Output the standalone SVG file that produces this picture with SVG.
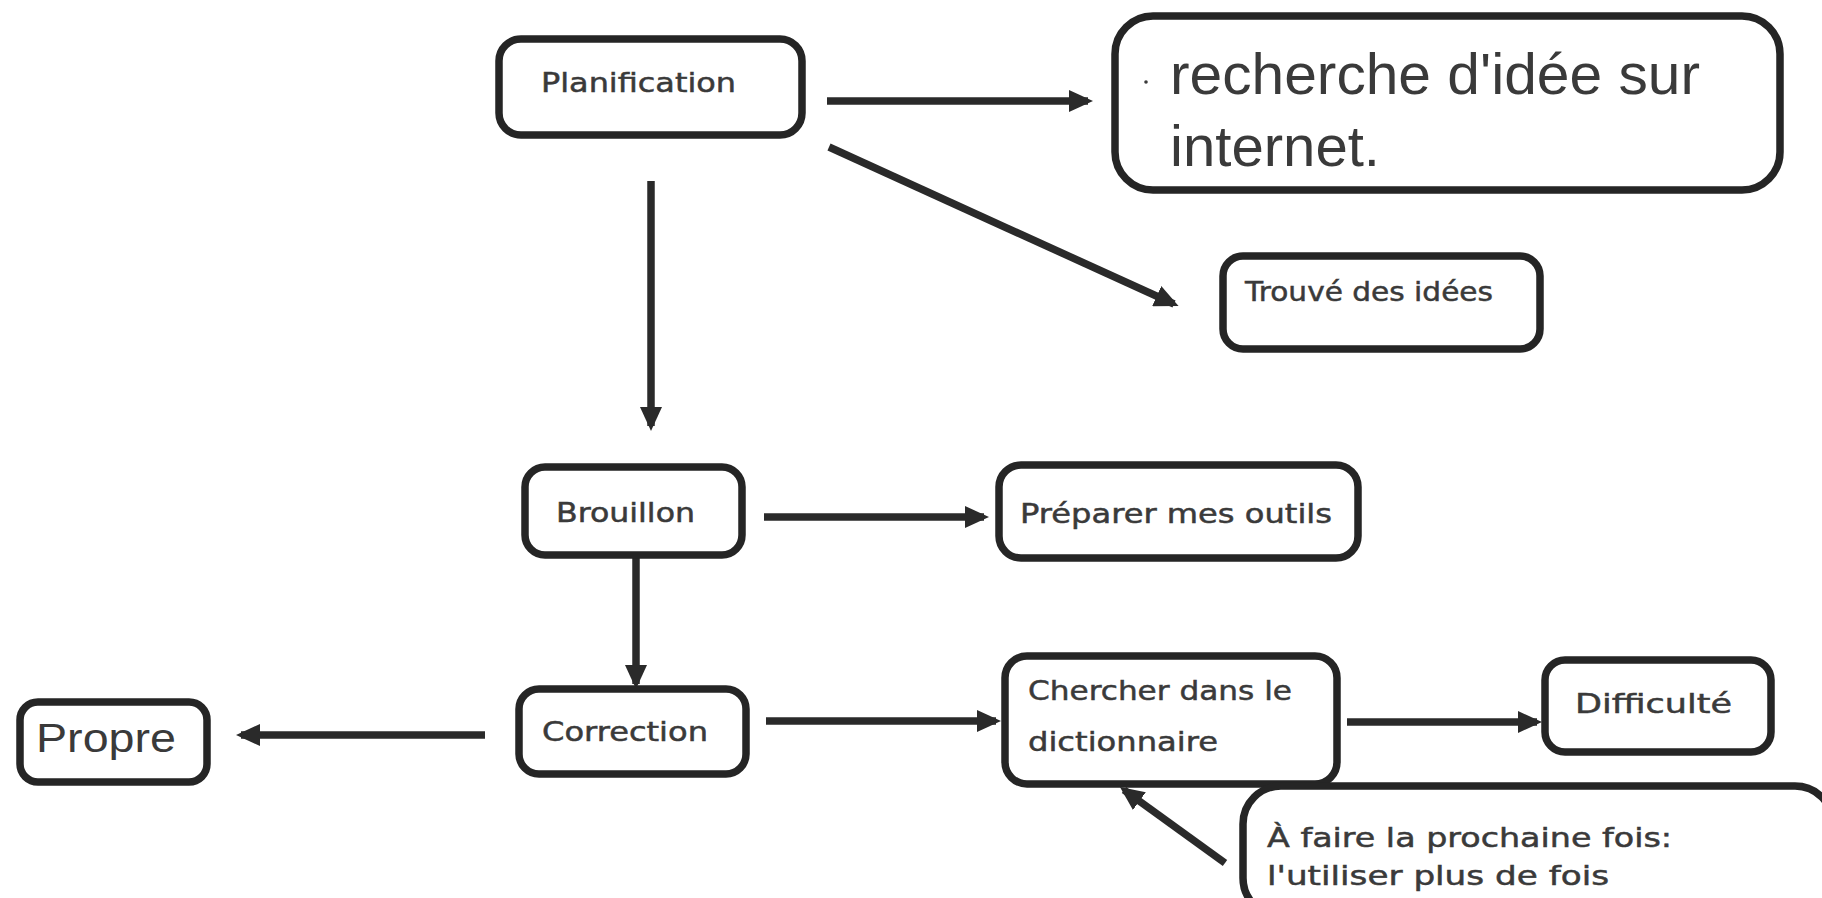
<svg xmlns="http://www.w3.org/2000/svg" width="1822" height="898" viewBox="0 0 1822 898">
<style>
.box{fill:#ffffff;stroke:#252525;stroke-width:7.5}
.c{font-family:"DejaVu Sans","Noto Sans",sans-serif;fill:#3a3a3a;stroke:#3a3a3a;stroke-width:0.5;font-size:27px}
.a{font-family:"Liberation Sans",Arial,sans-serif;fill:#3a3a3a}
.ln{stroke:#2a2a2a;stroke-width:7.5;fill:none;marker-end:url(#ah)}
</style>
<defs>
<marker id="ah" markerUnits="userSpaceOnUse" markerWidth="24" markerHeight="22" viewBox="0 0 24 22" refX="19" refY="11" orient="auto">
<path d="M0,0 L24,11 L0,22 z" fill="#2a2a2a"/>
</marker>
</defs>
<rect width="1822" height="898" fill="#ffffff"/>
<g id="connectors">
<line class="ln" x1="651" y1="181" x2="651" y2="426"/>
<line class="ln" x1="827" y1="101" x2="1088" y2="101"/>
<line class="ln" x1="829" y1="147" x2="1174" y2="304"/>
<line class="ln" x1="764" y1="517" x2="984" y2="517"/>
<line class="ln" x1="636" y1="555" x2="636" y2="684"/>
<line class="ln" x1="485" y1="735" x2="241" y2="735"/>
<line class="ln" x1="766" y1="721" x2="996" y2="721"/>
<line class="ln" x1="1347" y1="722" x2="1537" y2="722"/>
<line class="ln" x1="1225" y1="863" x2="1124" y2="790"/>
</g>
<g id="planification">
<rect class="box" x="499" y="39" width="303" height="96" rx="22"/>
<text class="c" x="541" y="92" textLength="195" lengthAdjust="spacingAndGlyphs">Planification</text>
</g>
<g id="recherche">
<rect class="box" x="1115" y="16" width="665" height="174" rx="38"/>
<circle cx="1146" cy="82" r="1.8" fill="#3a3a3a"/>
<text class="a" font-size="58" x="1170" y="94" textLength="530" lengthAdjust="spacingAndGlyphs">recherche d'idée sur</text>
<text class="a" font-size="58" x="1170" y="166" textLength="210" lengthAdjust="spacingAndGlyphs">internet.</text>
</g>
<g id="trouve">
<rect class="box" x="1223" y="256" width="317" height="93" rx="20"/>
<text class="c" x="1245" y="301" textLength="248" lengthAdjust="spacingAndGlyphs">Trouvé des idées</text>
</g>
<g id="brouillon">
<rect class="box" x="525" y="467" width="217" height="88" rx="20"/>
<text class="c" x="556" y="522" textLength="139" lengthAdjust="spacingAndGlyphs">Brouillon</text>
</g>
<g id="preparer">
<rect class="box" x="999" y="465" width="359" height="93" rx="22"/>
<text class="c" x="1020" y="523" textLength="312" lengthAdjust="spacingAndGlyphs">Préparer mes outils</text>
</g>
<g id="correction">
<rect class="box" x="519" y="689" width="227" height="85" rx="20"/>
<text class="c" x="542" y="741" textLength="166" lengthAdjust="spacingAndGlyphs">Correction</text>
</g>
<g id="propre">
<rect class="box" x="20" y="702" width="187" height="80" rx="18"/>
<text class="a" font-size="40" x="36" y="752" textLength="140" lengthAdjust="spacingAndGlyphs">Propre</text>
</g>
<g id="chercher">
<rect class="box" x="1005" y="656" width="332" height="128" rx="22"/>
<text class="c" x="1028" y="700" textLength="264" lengthAdjust="spacingAndGlyphs">Chercher dans le</text>
<text class="c" x="1028" y="751" textLength="190" lengthAdjust="spacingAndGlyphs">dictionnaire</text>
</g>
<g id="difficulte">
<rect class="box" x="1545" y="660" width="226" height="92" rx="20"/>
<text class="c" x="1575" y="713" textLength="157" lengthAdjust="spacingAndGlyphs">Difficulté</text>
</g>
<g id="afaire">
<rect class="box" x="1243" y="786" width="590" height="130" rx="38"/>
<text class="c" x="1267" y="847" textLength="405" lengthAdjust="spacingAndGlyphs">À faire la prochaine fois:</text>
<text class="c" x="1267" y="885" textLength="342" lengthAdjust="spacingAndGlyphs">l'utiliser plus de fois</text>
</g>
</svg>
